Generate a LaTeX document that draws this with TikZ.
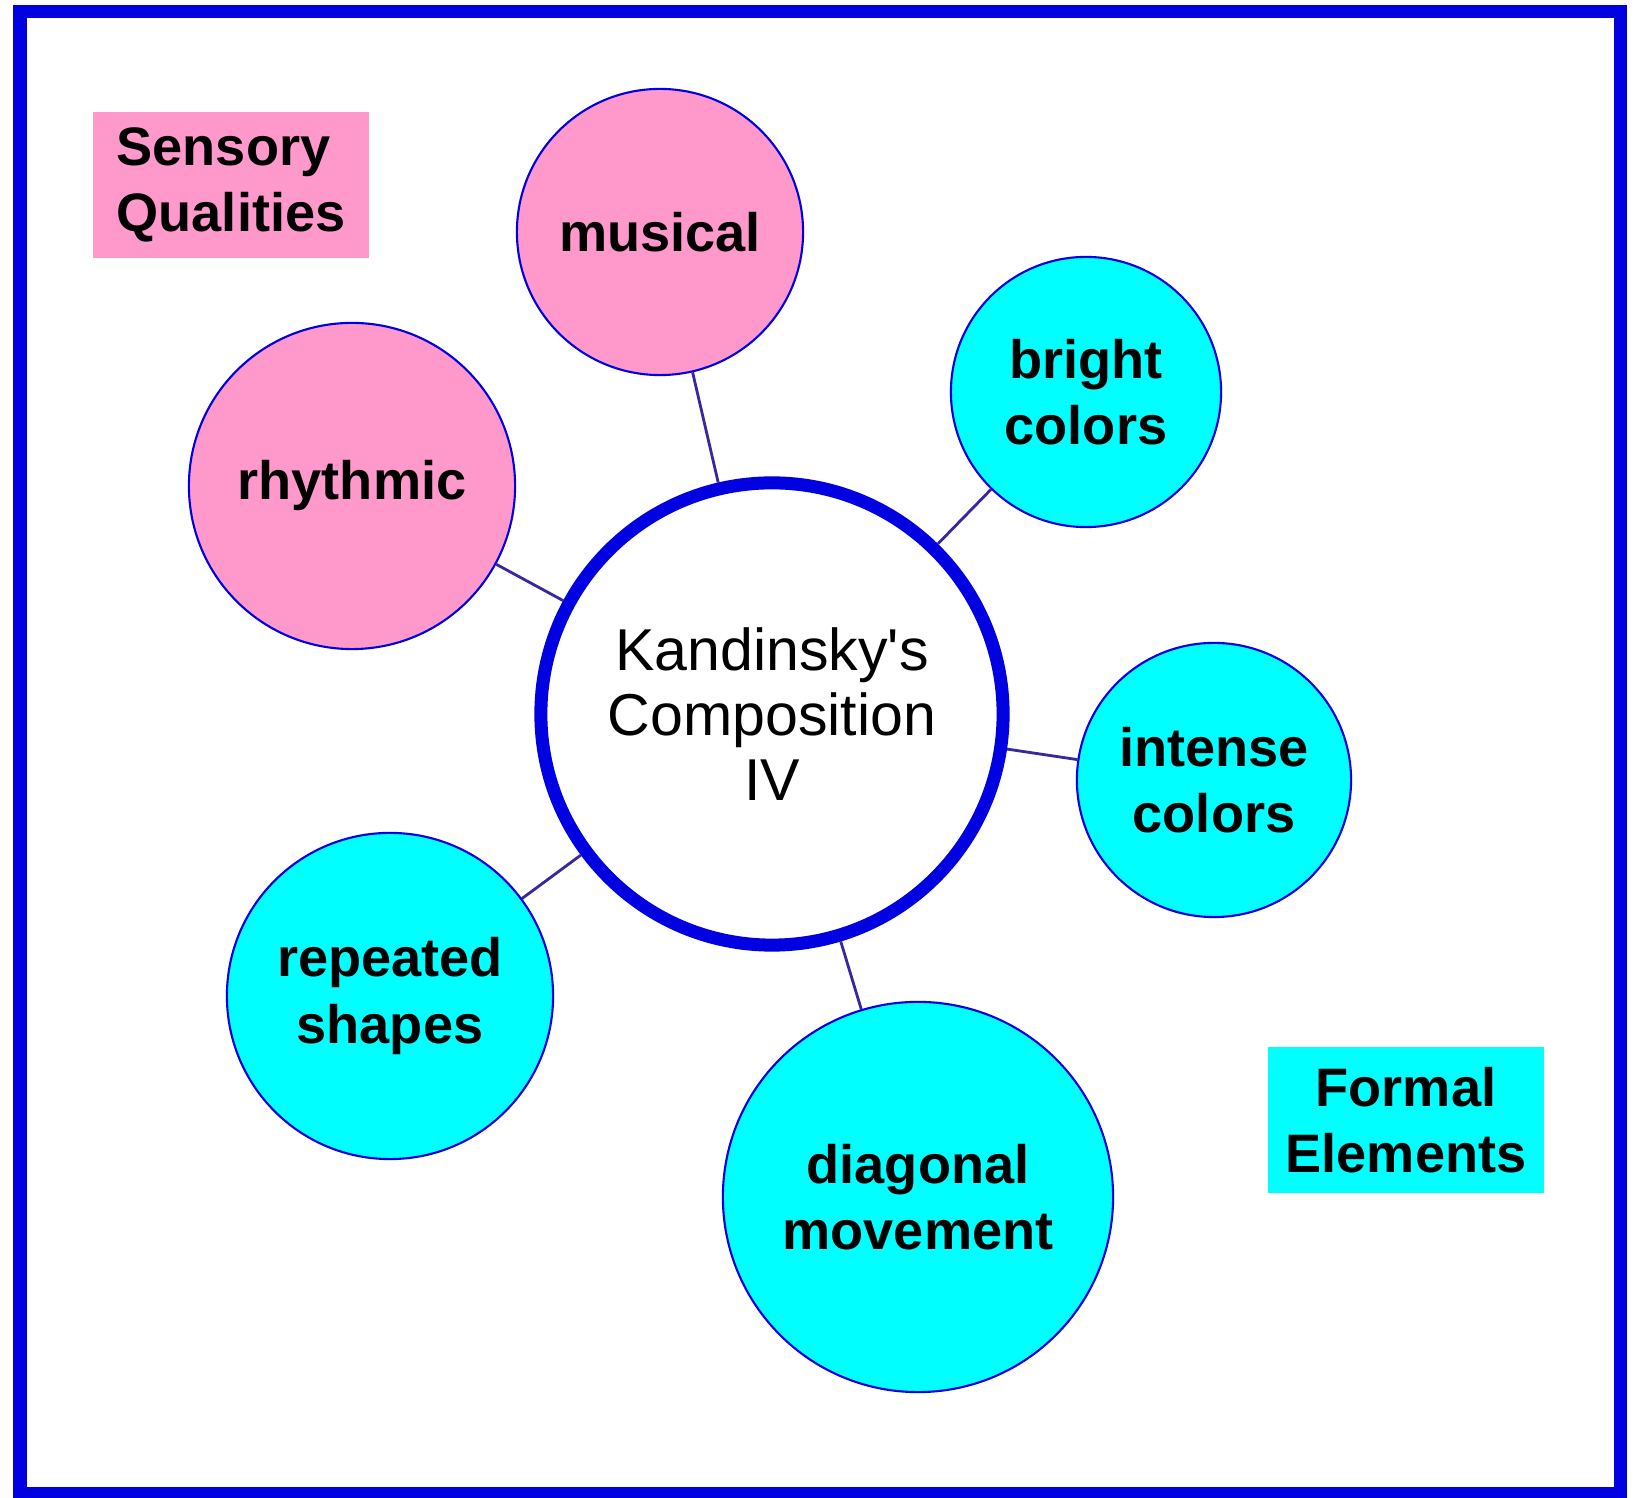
\documentclass[tikz,border=0pt]{standalone}
\usepackage{fontspec}
\setmainfont{Liberation Sans}[Ligatures=TeXOff]
\definecolor{framebl}{RGB}{0,0,225}
\definecolor{linkbl}{RGB}{55,40,160}
\definecolor{sensepink}{RGB}{255,153,204}
\definecolor{formcyan}{RGB}{0,255,255}
\tikzset{
  idea/.style={circle, draw=framebl, line width=0.6pt, inner sep=0pt, align=center,
    font=\fontsize{15.4}{18.8}\selectfont\bfseries},
  sensory/.style={idea, fill=sensepink},
  formal/.style={idea, fill=formcyan},
  keybox/.style={inner sep=0pt, minimum width=2.75cm, minimum height=1.45cm,
    font=\fontsize{15.4}{18.8}\selectfont\bfseries},
  link/.style={draw=linkbl, line width=0.8pt}
}
\begin{document}
\begin{tikzpicture}[x=0.01cm, y=-0.01cm]
  \useasboundingbox (0, 0) rectangle (1638, 1498);
  \draw[framebl, line width=0.13cm] (20, 12) rectangle (1620, 1494);

  % key boxes
  \node[keybox, fill=sensepink, align=left] (sensekey) at (231, 185) {Sensory\\Qualities};
  \node[keybox, fill=formcyan, align=center] (formkey) at (1406, 1120) {Formal\\Elements};

  % hub
  \node[circle, draw=framebl, fill=white, line width=3.7pt, minimum size=4.62cm, inner sep=0pt,
    align=center, font=\fontsize{16.8}{18.4}\selectfont] (comp) at (772, 714)
    {Kandinsky's\\Composition\\IV};

  % spokes
  \node[sensory, minimum size=2.86cm] (musical) at (660, 232) {musical};
  \node[sensory, minimum size=3.26cm] (rhythmic) at (352, 486) {rhythmic};
  \node[formal, minimum size=2.70cm] (bright) at (1086, 392) {bright\\colors};
  \node[formal, minimum size=2.74cm] (intense) at (1214, 780) {intense\\colors};
  \node[formal, minimum size=3.26cm] (repeated) at (390, 996) {repeated\\shapes};
  \node[formal, minimum size=3.90cm] (diagonal) at (918, 1197) {diagonal\\movement};

  \foreach \n in {musical, rhythmic, bright, intense, repeated, diagonal}
    \draw[link] (comp) -- (\n);
\end{tikzpicture}
\end{document}
